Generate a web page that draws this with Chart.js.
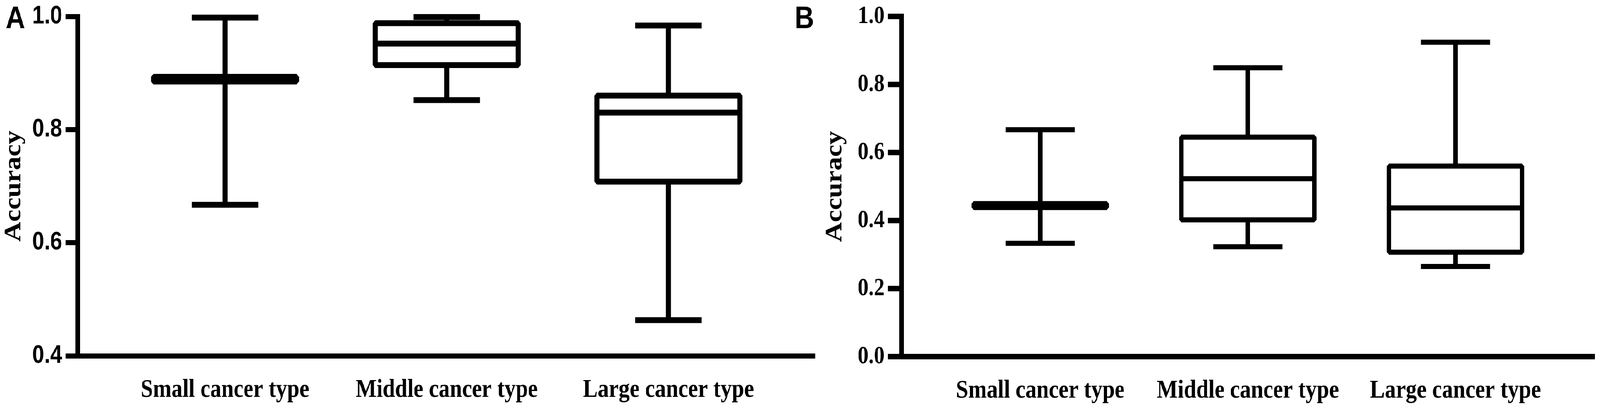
<!DOCTYPE html>
<html>
<head>
<meta charset="utf-8">
<script src="https://cdn.jsdelivr.net/npm/chart.js@4.4.1/dist/chart.umd.min.js"></script>
<style>
  html, body { margin: 0; padding: 0; background: #fff; overflow: hidden; }
  #page { position: absolute; left: 0; top: 0; width: 4766px; height: 1046px; transform-origin: 0 0; }
  .panel { position: absolute; top: 0; height: 1046px; }
  #wrapA { left: 0; width: 2440px; }
  #wrapB { left: 2350px; width: 2416px; }
</style>
</head>
<body>
<div id="page">
  <div class="panel" id="wrapA"><canvas id="chartA"></canvas></div>
  <div class="panel" id="wrapB"><canvas id="chartB"></canvas></div>
</div>
<script>
const categories = ['Small cancer type', 'Middle cancer type', 'Large cancer type'];

// panel A
const aMin    = [0.667, 0.852, 0.463];
const aQ1     = [0.889, 0.914, 0.708];
const aMedian = [0.889, 0.952, 0.830];
const aQ3     = [0.889, 0.988, 0.860];
const aMax    = [0.998, 0.999, 0.984];
const aTicks  = [0.4, 0.6, 0.8, 1.0];

// panel B
const bMin    = [0.333, 0.323, 0.265];
const bQ1     = [0.444, 0.402, 0.307];
const bMedian = [0.444, 0.523, 0.437];
const bQ3     = [0.444, 0.645, 0.560];
const bMax    = [0.667, 0.849, 0.924];
const bTicks  = [0.0, 0.2, 0.4, 0.6, 0.8, 1.0];

const SERIF = '"Liberation Serif", "Times New Roman", serif';
const SANS = '"Liberation Sans", Arial, sans-serif';

// the window may be narrower than the figure, squeeze it to fit the width
const fitX = Math.min(1, window.innerWidth / 4766);
const fitY = Math.min(1, window.innerHeight / 1046);
document.getElementById('page').style.transform = 'scale(' + fitX + ',' + fitY + ')';

Chart.defaults.color = '#000';

// draws the box and whiskers for every category using the chart scales
const boxPlot = {
  id: 'boxPlot',
  afterDatasetsDraw(chart, args, opts) {
    const ctx = chart.ctx;
    const x = chart.scales.x;
    const y = chart.scales.y;
    const ds = chart.data.datasets[0];
    const lw = opts.lineWidth;
    ctx.save();
    ctx.strokeStyle = '#000';
    ctx.fillStyle = '#000';
    ctx.lineWidth = lw;
    ctx.lineJoin = 'bevel';
    ctx.lineCap = 'butt';
    ds.data.forEach((pt, i) => {
      const cx = x.getPixelForValue(i);
      const bl = x.getPixelForValue(i - opts.boxWidth / 2);
      const br = x.getPixelForValue(i + opts.boxWidth / 2);
      const cl = x.getPixelForValue(i - opts.capWidth / 2);
      const cr = x.getPixelForValue(i + opts.capWidth / 2);
      const yMin = y.getPixelForValue(ds.boxMin[i]);
      const yQ1 = y.getPixelForValue(ds.boxQ1[i]);
      const yMed = y.getPixelForValue(pt.y);
      const yQ3 = y.getPixelForValue(ds.boxQ3[i]);
      const yMax = y.getPixelForValue(ds.boxMax[i]);

      // whiskers
      ctx.beginPath();
      ctx.moveTo(cx, yMax); ctx.lineTo(cx, yQ3);
      ctx.moveTo(cx, yQ1); ctx.lineTo(cx, yMin);
      ctx.moveTo(cl, yMax); ctx.lineTo(cr, yMax);
      ctx.moveTo(cl, yMin); ctx.lineTo(cr, yMin);
      ctx.stroke();

      if (Math.abs(yQ1 - yQ3) < 1) {
        // collapsed box shows as one heavy bar
        const h = opts.flatHeight - lw;
        ctx.beginPath();
        ctx.rect(bl, yMed - h / 2, br - bl, h);
        ctx.fill();
        ctx.stroke();
      } else {
        ctx.fillStyle = '#fff';
        ctx.beginPath();
        ctx.rect(bl, yQ3, br - bl, yQ1 - yQ3);
        ctx.fill();
        ctx.stroke();
        ctx.fillStyle = '#000';
        ctx.beginPath();
        ctx.moveTo(bl, yMed); ctx.lineTo(br, yMed);
        ctx.stroke();
      }
    });
    // panel letter
    ctx.font = 'bold 80px ' + SANS;
    ctx.textBaseline = 'alphabetic';
    ctx.textAlign = 'left';
    ctx.fillText(opts.letter, 17, 72);
    ctx.restore();
  }
};

function makeChart(id, cfg) {
  return new Chart(document.getElementById(id), {
    type: 'scatter',
    data: {
      datasets: [{
        label: 'Accuracy',
        data: cfg.median.map((m, i) => ({ x: i, y: m })),
        boxMin: cfg.min,
        boxQ1: cfg.q1,
        boxQ3: cfg.q3,
        boxMax: cfg.max,
        pointRadius: 0,
        showLine: false
      }]
    },
    options: {
      responsive: true,
      maintainAspectRatio: false,
      animation: false,
      events: [],
      layout: { padding: { top: cfg.top, right: cfg.right, left: 0, bottom: 0 } },
      plugins: {
        legend: { display: false },
        tooltip: { enabled: false },
        boxPlot: {
          lineWidth: cfg.lineWidth,
          boxWidth: cfg.boxWidth,
          capWidth: cfg.capWidth,
          flatHeight: cfg.flatHeight,
          letter: cfg.letter
        }
      },
      scales: {
        x: {
          type: 'linear',
          min: cfg.xMin,
          max: cfg.xMax,
          afterBuildTicks: (scale) => {
            scale.ticks = categories.map((c, i) => ({ value: i }));
          },
          afterFit: (scale) => { scale.height = cfg.xHeight; },
          grid: { display: false, drawTicks: false },
          border: { display: true, color: '#000', width: cfg.axisWidth },
          ticks: {
            autoSkip: false,
            maxRotation: 0,
            padding: 48,
            color: '#000',
            font: { family: SERIF, size: 66, weight: 'bold' },
            callback: (v) => categories[v]
          }
        },
        y: {
          min: cfg.yTicks[0],
          max: cfg.yTicks[cfg.yTicks.length - 1],
          afterBuildTicks: (scale) => {
            scale.ticks = cfg.yTicks.map((v) => ({ value: v }));
          },
          afterFit: (scale) => { scale.width = cfg.yWidth; },
          grid: {
            display: true,
            drawOnChartArea: false,
            drawTicks: true,
            tickLength: cfg.tickLength,
            tickWidth: cfg.axisWidth,
            tickColor: '#000',
            color: '#000',
            lineWidth: cfg.axisWidth
          },
          border: { display: true, color: '#000', width: cfg.axisWidth },
          ticks: {
            padding: 10,
            color: '#000',
            font: cfg.tickFont,
            callback: (v) => v.toFixed(1)
          },
          title: {
            display: true,
            text: 'Accuracy',
            color: '#000',
            font: { family: SERIF, size: 70, weight: 'bold' },
            padding: { top: cfg.titlePad, bottom: 0 }
          }
        }
      }
    },
    plugins: [boxPlot]
  });
}

makeChart('chartA', {
  min: aMin, q1: aQ1, median: aMedian, q3: aQ3, max: aMax, yTicks: aTicks,
  letter: 'A', top: 39, right: 13, yWidth: 231, xHeight: 136,
  xMin: -0.665, xMax: 2.66, lineWidth: 15, axisWidth: 13, tickLength: 36,
  boxWidth: 0.645, capWidth: 0.3, flatHeight: 27, titlePad: 0,
  tickFont: { family: SANS, size: 64, weight: 'bold', lineHeight: 1 }
});

makeChart('chartB', {
  min: bMin, q1: bQ1, median: bMedian, q3: bQ3, max: bMax, yTicks: bTicks,
  letter: 'B', top: 32, right: 16, yWidth: 336, xHeight: 134,
  xMin: -0.667, xMax: 2.67, lineWidth: 13, axisWidth: 14, tickLength: 41,
  boxWidth: 0.64, capWidth: 0.333, flatHeight: 23, titlePad: 96,
  tickFont: { family: SERIF, size: 64, weight: 'bold', lineHeight: 1 }
});
</script>
</body>
</html>
